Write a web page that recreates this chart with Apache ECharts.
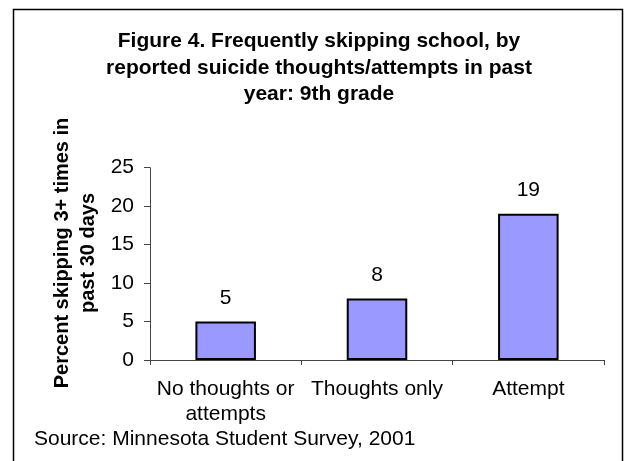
<!DOCTYPE html>
<html>
<head>
<meta charset="utf-8">
<script src="https://cdn.jsdelivr.net/npm/echarts@6/dist/echarts.min.js"></script>
<style>
  html, body { margin: 0; padding: 0; background: #fff; }
  #chart { width: 624px; height: 461px; }
</style>
</head>
<body>
<div id="chart"></div>
<script>
// Percent of 9th graders skipping school 3+ times in the past 30 days
const categories = ['No thoughts or\nattempts', 'Thoughts only', 'Attempt'];
const percentSkipping = [5, 8, 19];
const yTicks = [0, 5, 10, 15, 20, 25];

const titleLines = [
  'Figure 4. Frequently skipping school, by',
  'reported suicide thoughts/attempts in past',
  'year: 9th grade'
];
const yAxisTitle = ['Percent skipping 3+ times in', 'past 30 days'];
const sourceNote = 'Source: Minnesota Student Survey, 2001';

const FONT = '"Liberation Sans", Arial, sans-serif';

const chart = echarts.init(document.getElementById('chart'), null, { renderer: 'canvas' });

chart.setOption({
  animation: false,
  backgroundColor: '#ffffff',
  title: {
    text: titleLines.join('\n'),
    left: 319,
    textAlign: 'center',
    top: 28,
    padding: 0,
    textStyle: {
      fontFamily: FONT,
      fontSize: 21,
      fontWeight: 'bold',
      color: '#000',
      lineHeight: 26.5
    }
  },
  grid: {
    left: 150,
    right: 20,
    top: 167.7,
    bottom: 101,
    containLabel: false
  },
  xAxis: {
    type: 'category',
    data: categories,
    axisLine: { lineStyle: { color: '#444', width: 1 } },
    axisTick: { show: true, length: 5, alignWithLabel: false, lineStyle: { color: '#444' } },
    axisLabel: {
      interval: 0,
      margin: 16,
      fontFamily: FONT,
      fontSize: 21,
      color: '#000',
      lineHeight: 25.5
    }
  },
  yAxis: {
    type: 'value',
    min: yTicks[0],
    max: yTicks[yTicks.length - 1],
    interval: yTicks[1] - yTicks[0],
    splitLine: { show: false },
    axisLine: { show: true, lineStyle: { color: '#444', width: 1 } },
    axisTick: { show: true, length: 6, lineStyle: { color: '#444' } },
    axisLabel: {
      margin: 16,
      fontFamily: FONT,
      fontSize: 21,
      color: '#000'
    }
  },
  series: [{
    type: 'bar',
    data: percentSkipping,
    barWidth: '40%',
    itemStyle: {
      color: '#9999FF',
      borderColor: '#000',
      borderWidth: 2
    },
    label: {
      show: true,
      position: 'top',
      distance: 13,
      fontFamily: FONT,
      fontSize: 21,
      color: '#000'
    }
  }],
  graphic: [
    {
      type: 'rect',
      shape: { x: 13.5, y: 9.5, width: 609, height: 470 },
      style: { fill: 'none', stroke: '#000', lineWidth: 1.5 },
      silent: true
    },
    {
      type: 'text',
      x: 75,
      y: 253,
      rotation: Math.PI / 2,
      style: {
        text: yAxisTitle.join('\n'),
        fontFamily: FONT,
        fontSize: 20,
        fontWeight: 'bold',
        fill: '#000',
        lineHeight: 26,
        textAlign: 'center',
        textVerticalAlign: 'middle'
      }
    },
    {
      type: 'text',
      x: 34,
      y: 439,
      style: {
        text: sourceNote,
        fontFamily: FONT,
        fontSize: 21,
        fill: '#000',
        textAlign: 'left',
        textVerticalAlign: 'middle'
      }
    }
  ]
});
</script>
</body>
</html>
